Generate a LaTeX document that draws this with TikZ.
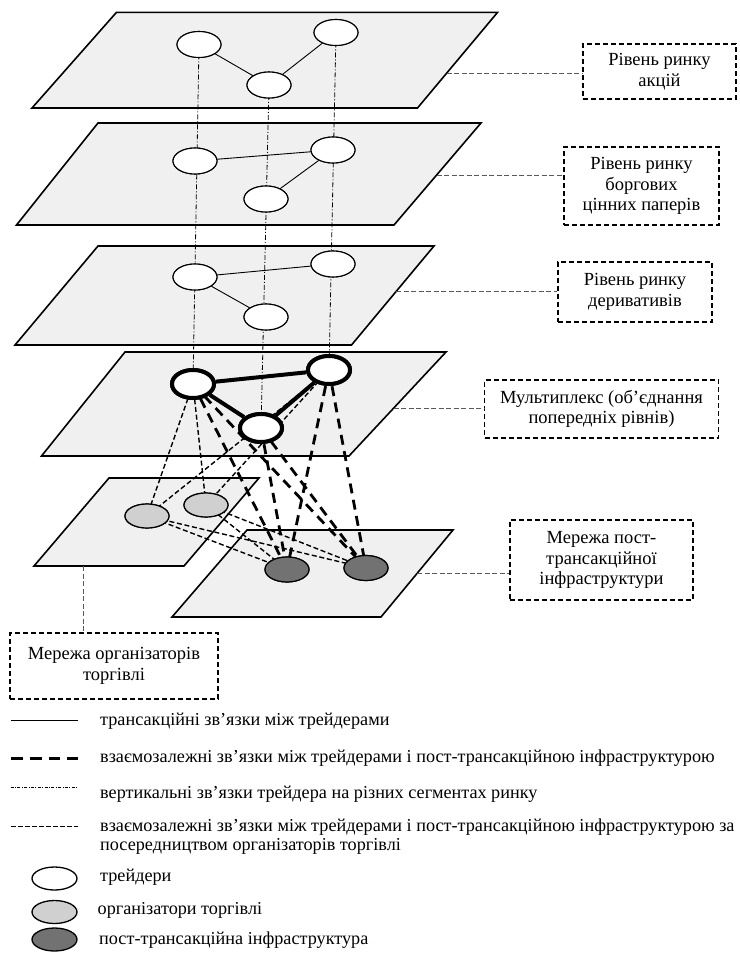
\documentclass[tikz,border=0pt]{standalone}
\usepackage{fontspec}
\setmainfont{Liberation Serif}
\usetikzlibrary{shapes.geometric,calc}
\definecolor{planegray}{HTML}{F0F0F0}
\definecolor{orggray}{HTML}{D0D0D0}
\definecolor{infragray}{HTML}{727272}

\begin{document}
\begin{tikzpicture}[x=1pt,y=-1pt,
  plane/.style={draw=black,line width=1.6pt,fill=planegray,line join=miter},
  trader/.style={ellipse,draw,line width=1.1pt,fill=white,minimum width=44pt,minimum height=26pt,inner sep=0pt},
  hub/.style={trader,line width=4pt,minimum width=42pt,minimum height=28pt},
  org/.style={ellipse,draw,line width=1.2pt,fill=orggray,minimum width=44pt,minimum height=24pt,inner sep=0pt},
  infra/.style={ellipse,draw,line width=1.2pt,fill=infragray,minimum width=44pt,minimum height=25pt,inner sep=0pt},
  trade/.style={line width=0.9pt},
  hubtrade/.style={line width=4pt},
  vlink/.style={line width=0.8pt,dash pattern=on 5pt off 2pt on 1pt off 2pt},
  direct/.style={line width=2.8pt,dash pattern=on 10pt off 6.5pt},
  viaorg/.style={line width=1.4pt,dash pattern=on 5pt off 2.7pt},
  labelbox/.style={draw,line width=1.7pt,dash pattern=on 5pt off 3pt,align=center,inner sep=0pt,font=\fontsize{18.5}{20.5}\selectfont},
  leader/.style={draw=black!65,line width=0.9pt,dash pattern=on 5pt off 2.5pt},
  legendtext/.style={anchor=base west,font=\fontsize{18.2}{20}\selectfont,inner sep=0pt},
  key/.style={minimum width=45pt,minimum height=23pt,line width=1.3pt}
]
\useasboundingbox (0,0) rectangle (739,953);

% ---- planes (market layers) ----
\coordinate (p1tl) at (116.5,12.3); \coordinate (p1tr) at (497.6,12.3);
\coordinate (p1br) at (417.5,108);  \coordinate (p1bl) at (32,108);
\coordinate (p2tl) at (98,123);     \coordinate (p2tr) at (481,123);
\coordinate (p2br) at (394,225);    \coordinate (p2bl) at (16.5,225);
\coordinate (p3tl) at (98,246);     \coordinate (p3tr) at (434,246);
\coordinate (p3br) at (351.5,345);  \coordinate (p3bl) at (15,345);
\coordinate (p4tl) at (125,352);    \coordinate (p4tr) at (446,352);
\coordinate (p4br) at (349,456);    \coordinate (p4bl) at (41.5,456);
\coordinate (p5tl) at (109,478);    \coordinate (p5tr) at (259,478);
\coordinate (p5br) at (184,566);    \coordinate (p5bl) at (34,566);
\coordinate (p6tl) at (247,530);    \coordinate (p6tr) at (453,530);
\coordinate (p6br) at (381,617);    \coordinate (p6bl) at (172,617);

\foreach \p in {1,...,6}
  \draw[plane] (p\p tl) -- (p\p tr) -- (p\p br) -- (p\p bl) -- cycle;

% ---- nodes ----
\node[trader] (a1) at (199,44.5) {};
\node[trader] (b1) at (336,32.5) {};
\node[trader] (c1) at (269,85) {};
\node[trader] (a2) at (195,161) {};
\node[trader] (b2) at (333,150) {};
\node[trader] (c2) at (266,199) {};
\node[trader] (a3) at (195,277) {};
\node[trader] (b3) at (333,264) {};
\node[trader] (c3) at (266,317) {};
\node[hub] (a4) at (193,384) {};
\node[hub] (b4) at (329,370) {};
\node[hub] (c4) at (261,428) {};
\node[org] (g1) at (147,516) {};
\node[org] (g2) at (206,505) {};
\node[infra] (d1) at (287,569.5) {};
\node[infra] (d2) at (366,568) {};

% ---- labels ----
\node[labelbox,minimum width=153pt,minimum height=55pt] (lab1) at (659.5,71.5) {Рівень ринку\\акцій};
\node[labelbox,minimum width=155pt,minimum height=78pt] (lab2) at (641.5,186) {Рівень ринку\\боргових\\цінних паперів};
\node[labelbox,minimum width=154pt,minimum height=60pt] (lab3) at (635,292) {Рівень ринку\\деривативів};
\node[labelbox,minimum width=234pt,minimum height=58pt] (lab4) at (601.5,409) {Мультиплекс (об’єднання\\попередніх рівнів)};
\node[labelbox,minimum width=183pt,minimum height=80pt] (lab5) at (601.5,560) {Мережа пост-\\трансакційної\\інфраструктури};
\node[labelbox,minimum width=208pt,minimum height=66pt] (lab6) at (114,666) {Мережа організаторів\\торгівлі};

% ---- leaders from the layers to their labels ----
\coordinate (e1) at ($(p1tr)!0.634!(p1br)$);
\coordinate (e2) at ($(p2tr)!0.51!(p2br)$);
\coordinate (e3) at ($(p3tr)!0.455!(p3br)$);
\coordinate (e4) at ($(p4tr)!0.54!(p4br)$);
\coordinate (e6) at ($(p6tr)!0.494!(p6br)$);
\coordinate (e5) at ($(p5bl)!0.327!(p5br)$);
\draw[leader] (e1) -- (e1 -| lab1.west);
\draw[leader] (e2) -- (e2 -| lab2.west);
\draw[leader] (e3) -- (e3 -| lab3.west);
\draw[leader] (e4) -- (e4 -| lab4.west);
\draw[leader] (e6) -- (e6 -| lab5.west);
\draw[leader] (e5) -- (e5 |- lab6.north);

% vertical links of each trader through the layers
\draw[vlink] (a1.center) -- (a4.center);
\draw[vlink] (c1.center) -- (c4.center);
\draw[vlink] (b1.center) -- (b4.center);

% transactions inside each layer
\draw[trade] (a1) -- (c1) -- (b1);
\draw[trade] (a2) -- (b2) -- (c2);
\draw[trade] (b3) -- (a3) -- (c3);
\draw[hubtrade] (a4) -- (b4) -- (c4) -- (a4);

% traders to infrastructure via organizers
\draw[viaorg] (a4.center) -- (g1.center);
\draw[viaorg] (a4.center) -- (g2.center);
\draw[viaorg] (b4.center) -- (g1.center);
\draw[viaorg] (b4.center) -- (g2.center);
\draw[viaorg] (g1.center) -- (d1.center);
\draw[viaorg] (g1.center) -- (d2.center);
\draw[viaorg] (g2.center) -- (d1.center);
\draw[viaorg] (g2.center) -- (d2.center);

% traders directly to infrastructure
\draw[direct] (a4.center) -- (d1.center);
\draw[direct] (a4.center) -- (d2.center);
\draw[direct] (c4.center) -- (d1.center);
\draw[direct] (c4.center) -- (d2.center);
\draw[direct] (b4.center) -- (d1.center);
\draw[direct] (b4.center) -- (d2.center);

% nodes drawn again on top of their connectors
\foreach \n/\s in {a1/trader,b1/trader,c1/trader,a2/trader,b2/trader,c2/trader,a3/trader,b3/trader,c3/trader,a4/hub,b4/hub,c4/hub,g1/org,g2/org,d1/infra,d2/infra}
  \node[\s] at (\n.center) {};

% ---- legend ----
\coordinate (l1a) at (10.5,720.5);  \coordinate (l1b) at (78,720.5);
\coordinate (l2a) at (11,758.5);    \coordinate (l2b) at (78,758.5);
\coordinate (l3a) at (10.5,787.5);  \coordinate (l3b) at (78,787.5);
\coordinate (l4a) at (10.5,826.5);  \coordinate (l4b) at (78,826.5);
\draw[trade,line width=1.1pt] (l1a) -- (l1b);
\draw[direct,line width=3.4pt,dash pattern=on 11.7pt off 7.1pt] (l2a) -- (l2b);
\draw[vlink,line width=0.7pt,dash pattern=on 3pt off 1.5pt on 0.8pt off 1.5pt] (l3a) -- (l3b);
\draw[viaorg,dash pattern=on 5pt off 2pt] (l4a) -- (l4b);
\node[legendtext] (t1) at (100,725) {трансакційні зв’язки між трейдерами};
\node[legendtext] (t2) at (100,762) {взаємозалежні зв’язки між трейдерами і пост-трансакційною інфраструктурою};
\node[legendtext] (t3) at (100,798.5) {вертикальні зв’язки трейдера на різних сегментах ринку};
\node[legendtext] (t4) at (100,831) {взаємозалежні зв’язки між трейдерами і пост-трансакційною інфраструктурою за};
\node[legendtext] (t4b) at (100,850) {посередництвом організаторів торгівлі};
\node[trader,key] (k1) at (54.5,878.5) {};
\node[org,key] (k2) at (54.5,912) {};
\node[infra,key] (k3) at (54.5,939.5) {};
\node[legendtext] (t5) at (100,881.5) {трейдери};
\node[legendtext] (t6) at (97.5,914.5) {організатори торгівлі};
\node[legendtext] (t7) at (99,944.5) {пост-трансакційна інфраструктура};
\end{tikzpicture}
\end{document}
